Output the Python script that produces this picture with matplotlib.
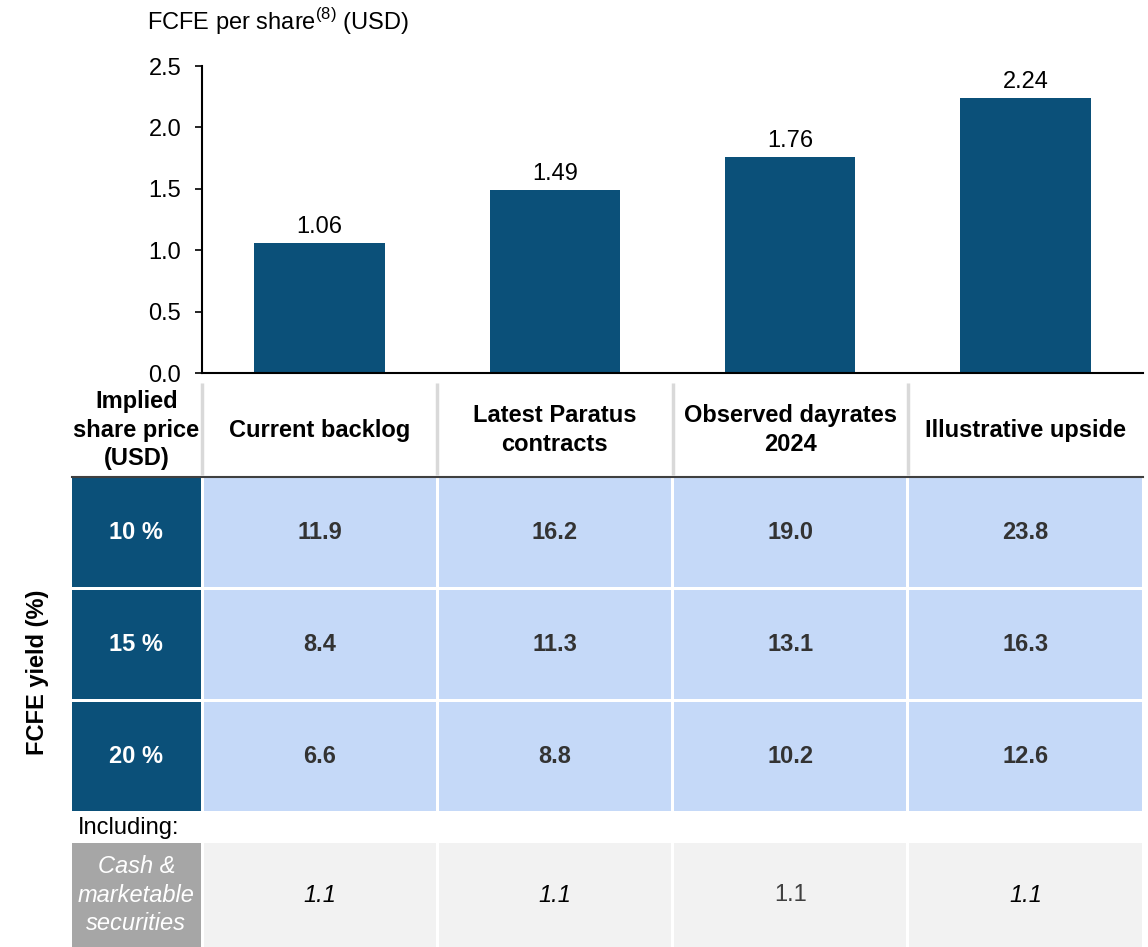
import matplotlib.pyplot as plt
from matplotlib.patches import Rectangle

plt.rcParams['font.family'] = ['Liberation Sans', 'DejaVu Sans']
plt.rcParams['mathtext.fontset'] = 'custom'
plt.rcParams['mathtext.rm'] = 'Liberation Sans'

# data
scenarios = ['Current backlog', 'Latest Paratus\ncontracts', 'Observed dayrates\n2024', 'Illustrative upside']
fcfe_per_share = [1.06, 1.49, 1.76, 2.24]
yields = ['10 %', '15 %', '20 %']
implied_price = [
    [11.9, 16.2, 19.0, 23.8],
    [8.4, 11.3, 13.1, 16.3],
    [6.6, 8.8, 10.2, 12.6],
]
cash_per_share = [1.1, 1.1, 1.1, 1.1]
cash_italic = [True, True, False, True]

navy = '#0B5079'
light_blue = '#C5D9F8'
grey_cell = '#A6A6A6'
light_grey = '#F2F2F2'

W, H = 1148, 947
fig = plt.figure(figsize=(W / 100, H / 100), dpi=100)

# bar chart, placed in pixel units
ax = fig.add_axes([202 / W, 1 - 373 / H, 941 / W, 307 / H])
x = range(len(scenarios))
bars = ax.bar(x, fcfe_per_share, width=0.555, color=navy)
for b, v in zip(bars, fcfe_per_share):
    ax.text(b.get_x() + b.get_width() / 2, v + 0.04, f'{v:.2f}', ha='center', va='bottom', fontsize=17)
ax.set_xlim(-0.5, 3.5)
ax.set_ylim(0, 2.5)
ticks = [0, 0.5, 1.0, 1.5, 2.0, 2.5]
ax.set_yticks(ticks)
ax.set_yticklabels([f'{t:.1f}' for t in ticks])
ax.tick_params(axis='y', labelsize=17, length=5, width=1.2, pad=10)
ax.set_xticks([])
ax.spines[['top', 'right']].set_visible(False)
ax.spines[['left', 'bottom']].set_linewidth(1.5)

fig.text(147 / W, 1 - 22 / H, r'FCFE per share$^{(8)}$ (USD)', fontsize=17, va='center', ha='left')

# table below, same column scale as the bars
px = 941 / 4  # pixels per column
tx = fig.add_axes([0, 0, 1, 1])
tx.set_xlim(-0.5 - 202 / px, -0.5 + (W - 202) / px)
tx.set_ylim(H, 0)
tx.axis('off')
tx.patch.set_visible(False)

g = 1.5 / px
left0, left1 = -0.5 - 130 / px, -0.5 - 1.5 / px

# header row
for i in range(4):
    tx.plot([i - 0.5, i - 0.5], [383, 475], color='#D9D9D9', lw=2.5, solid_capstyle='butt')
tx.text((left0 + left1) / 2, 430, 'Implied\nshare price\n(USD)', ha='center', va='center',
        fontsize=17, fontweight='bold', linespacing=1.3)
for i, name in enumerate(scenarios):
    tx.text(i, 430, name, ha='center', va='center', fontsize=17, fontweight='bold', linespacing=1.3)
tx.plot([left0, 3.5], [476.5, 476.5], color='#404040', lw=1.5)

# yield rows
row_top, row_h, pitch = 478, 109, 112
for r, (lab, vals) in enumerate(zip(yields, implied_price)):
    y0 = row_top + r * pitch
    tx.add_patch(Rectangle((left0, y0), left1 - left0, row_h, color=navy, lw=0))
    tx.text((left0 + left1) / 2, y0 + row_h / 2, lab, ha='center', va='center',
            fontsize=17, fontweight='bold', color='white')
    for i, v in enumerate(vals):
        tx.add_patch(Rectangle((i - 0.5 + g, y0), 1 - 2 * g, row_h, color=light_blue, lw=0))
        tx.text(i, y0 + row_h / 2, f'{v:.1f}', ha='center', va='center',
                fontsize=17, fontweight='bold', color='#333333')

fig.text(38 / W, 1 - 672 / H, 'FCFE yield (%)', rotation=90, ha='center', va='center',
         fontsize=17, fontweight='bold')

fig.text(78 / W, 1 - 828 / H, 'Including:', ha='left', va='center', fontsize=17)

# cash row
c0, c1 = 843, H
tx.add_patch(Rectangle((left0, c0), left1 - left0, c1 - c0, color=grey_cell, lw=0))
tx.text((left0 + left1) / 2, (c0 + c1) / 2, 'Cash &\nmarketable\nsecurities', ha='center', va='center',
        fontsize=17, style='italic', color='white', linespacing=1.3)
for i, (v, it) in enumerate(zip(cash_per_share, cash_italic)):
    tx.add_patch(Rectangle((i - 0.5 + g, c0), 1 - 2 * g, c1 - c0, color=light_grey, lw=0))
    tx.text(i, (c0 + c1) / 2, f'{v:.1f}', ha='center', va='center', fontsize=17,
            style='italic' if it else 'normal', color='black' if it else '#404040')

fig.savefig('out.png', dpi=100)
